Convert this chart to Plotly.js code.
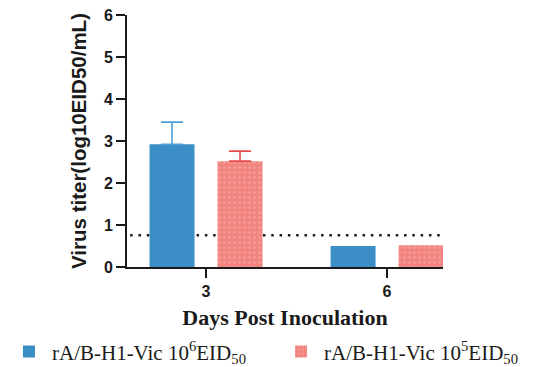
<!DOCTYPE html>
<html>
<head>
<meta charset="utf-8">
<script src="https://cdn.plot.ly/plotly-3.0.1.min.js"></script>
<style>html,body{margin:0;padding:0;background:#fff;}#chart{width:537px;height:367px;}</style>
</head>
<body>
<div id="chart"></div>
<script>
const days = ['3', '6'];
const seriesNames = ['rA/B-H1-Vic 10<sup>6</sup>EID<sub>50</sub>', 'rA/B-H1-Vic 10<sup>5</sup>EID<sub>50</sub>'];
const highDoseTiter = [2.92, 0.50];
const highDoseSD = [0.53, NaN];
const lowDoseTiter = [2.52, 0.52];
const lowDoseSD = [0.24, NaN];
const detectionLimit = 0.755;
const yTicks = [0, 1, 2, 3, 4, 5, 6];

const blue = '#3b8ec6', pink = '#f28480';
const ink = '#1a1a1a';
const legendFont = {family: 'Liberation Serif, Times New Roman, serif', size: 21, color: ink};

const traces = [
  {
    type: 'bar', name: seriesNames[0], x: days, y: highDoseTiter, legend: 'legend',
    marker: {color: blue, line: {width: 0}},
    error_y: {type: 'data', symmetric: false, array: highDoseSD,
              color: '#4a9fd8', thickness: 1.6, width: 11}
  },
  {
    type: 'bar', name: seriesNames[1], x: days, y: lowDoseTiter, legend: 'legend2',
    marker: {color: pink, line: {width: 0},
             pattern: {shape: '.', fillmode: 'overlay', bgcolor: pink, fgcolor: '#f8aaa6', size: 5, solidity: 0.3}},
    error_y: {type: 'data', symmetric: false, array: lowDoseSD,
              color: '#e84a4a', thickness: 1.6, width: 11}
  }
];

const layout = {
  width: 537, height: 367,
  margin: {l: 127, r: 94, t: 15, b: 100, autoexpand: false},
  paper_bgcolor: '#fff', plot_bgcolor: '#fff',
  barmode: 'group', bargap: 0.249, bargroupgap: 0.338,
  showlegend: true,
  legend: {orientation: 'h', x: -0.383, xanchor: 'left', y: -0.337, yanchor: 'middle',
           font: legendFont, itemwidth: 36},
  legend2: {orientation: 'h', x: 0.478, xanchor: 'left', y: -0.337, yanchor: 'middle',
            font: legendFont, itemwidth: 36},
  xaxis: {
    type: 'category', range: [-0.4365, 1.309], fixedrange: true,
    showline: true, linecolor: ink, linewidth: 2, mirror: false,
    ticks: 'outside', ticklen: 9, tickwidth: 2, tickcolor: ink,
    tickfont: {family: 'Liberation Sans, Arial, sans-serif', size: 16, color: ink, weight: 'bold'},
    showgrid: false, zeroline: false,
    title: {text: '<b>Days Post Inoculation</b>', standoff: 10,
            font: {family: 'Liberation Serif, Times New Roman, serif', size: 22, color: ink}}
  },
  yaxis: {
    range: [0, 6], tickvals: yTicks, fixedrange: true,
    showline: true, linecolor: ink, linewidth: 2,
    ticks: 'outside', ticklen: 9, tickwidth: 2, tickcolor: ink,
    tickfont: {family: 'Liberation Sans, Arial, sans-serif', size: 16, color: ink, weight: 'bold'},
    showgrid: false, zeroline: false,
    title: {text: '<b>Virus titer(log10EID50/mL)</b>', standoff: 12,
            font: {family: 'Liberation Sans, Arial, sans-serif', size: 20.5, color: ink}}
  },
  shapes: [{
    type: 'line', layer: 'below', xref: 'paper', yref: 'y',
    x0: 0.01, x1: 1, y0: detectionLimit, y1: detectionLimit,
    line: {color: ink, width: 2.5, dash: '2.5px,5.8px'}
  }]
};

Plotly.newPlot('chart', traces, layout, {displayModeBar: false, staticPlot: true});
</script>
</body>
</html>
